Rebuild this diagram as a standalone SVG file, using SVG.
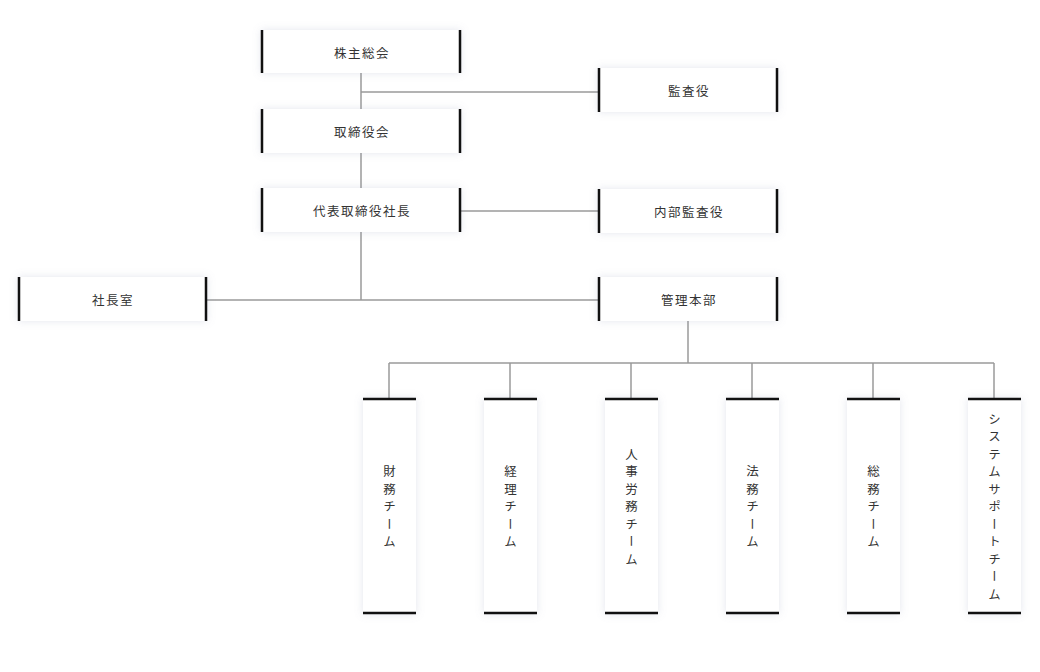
<svg xmlns="http://www.w3.org/2000/svg" width="1040" height="672" viewBox="0 0 1040 672">
<defs>
<filter id="sh" x="-20%" y="-20%" width="140%" height="140%">
<feDropShadow dx="0" dy="0" stdDeviation="4" flood-color="#8a94b0" flood-opacity="0.24"/>
</filter>
<style>
.box{fill:#ffffff;filter:url(#sh)}
.bar{stroke:#111111;stroke-width:2.5;fill:none}
.lbl{font-family:"Noto Sans CJK JP","Noto Sans",sans-serif;font-size:12.5px;fill:#333333;letter-spacing:1.5px;text-anchor:middle;dominant-baseline:central}
.vlbl{font-family:"Noto Sans CJK JP","Noto Sans",sans-serif;font-size:12.5px;fill:#333333;letter-spacing:5px;text-anchor:middle;writing-mode:vertical-rl}
.ln{stroke:#9a9a9a;stroke-width:1.5;fill:none}
</style>
</defs>
<rect width="1040" height="672" fill="#ffffff"/>
<g id="connectors">
<path class="ln" d="M361 73V109M361 92H598M361 153V188M361 232V300M207 300H598M461 211H598"/>
<path class="ln" d="M688 321V363M389 363H994M389 363V398M510 363V398M631 363V398M752 363V398M873 363V398M994 363V398"/>
</g>
<g id="n1"><rect class="box" x="261" y="30" width="200" height="43"/><path class="bar" d="M262 30V73M460 30V73"/><text class="lbl" x="362" y="52">株主総会</text></g>
<g id="n2"><rect class="box" x="598" y="68" width="180" height="44"/><path class="bar" d="M599 68V112M777 68V112"/><text class="lbl" x="689" y="90">監査役</text></g>
<g id="n3"><rect class="box" x="261" y="109" width="200" height="44"/><path class="bar" d="M262 109V153M460 109V153"/><text class="lbl" x="362" y="131">取締役会</text></g>
<g id="n4"><rect class="box" x="261" y="188" width="200" height="44"/><path class="bar" d="M262 188V232M460 188V232"/><text class="lbl" x="362" y="210">代表取締役社長</text></g>
<g id="n5"><rect class="box" x="598" y="189" width="180" height="44"/><path class="bar" d="M599 189V233M777 189V233"/><text class="lbl" x="689" y="211">内部監査役</text></g>
<g id="n6"><rect class="box" x="18" y="277" width="189" height="44"/><path class="bar" d="M19 277V321M206 277V321"/><text class="lbl" x="113" y="299">社長室</text></g>
<g id="n7"><rect class="box" x="598" y="277" width="180" height="44"/><path class="bar" d="M599 277V321M777 277V321"/><text class="lbl" x="689" y="299">管理本部</text></g>
<g id="t1"><rect class="box" x="363" y="398" width="53" height="216"/><path class="bar" d="M363 399H416M363 613H416"/><text class="vlbl" x="389.5" y="509">財務チーム</text></g>
<g id="t2"><rect class="box" x="484" y="398" width="53" height="216"/><path class="bar" d="M484 399H537M484 613H537"/><text class="vlbl" x="510.5" y="509">経理チーム</text></g>
<g id="t3"><rect class="box" x="605" y="398" width="53" height="216"/><path class="bar" d="M605 399H658M605 613H658"/><text class="vlbl" x="631.5" y="509">人事労務チーム</text></g>
<g id="t4"><rect class="box" x="726" y="398" width="53" height="216"/><path class="bar" d="M726 399H779M726 613H779"/><text class="vlbl" x="752.5" y="509">法務チーム</text></g>
<g id="t5"><rect class="box" x="847" y="398" width="53" height="216"/><path class="bar" d="M847 399H900M847 613H900"/><text class="vlbl" x="873.5" y="509">総務チーム</text></g>
<g id="t6"><rect class="box" x="968" y="398" width="53" height="216"/><path class="bar" d="M968 399H1021M968 613H1021"/><text class="vlbl" x="994.5" y="509">システムサポートチーム</text></g>
</svg>
